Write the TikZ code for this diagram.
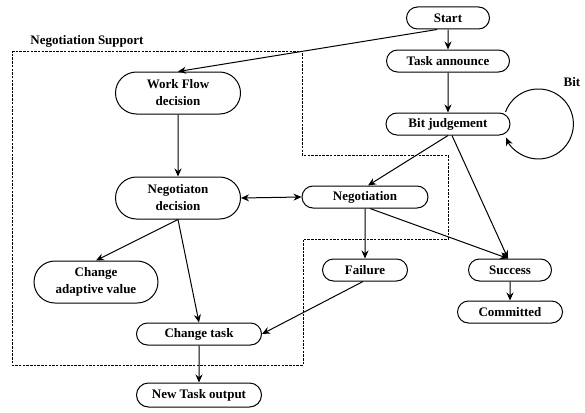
\documentclass[tikz,border=0pt]{standalone}
\usepackage{fontspec}
\setmainfont{Liberation Serif}
\usetikzlibrary{shapes.misc,arrows.meta}
\begin{document}
\begin{tikzpicture}[x=1pt,y=-1pt,
  box/.style={draw, line width=1pt, rounded rectangle, inner sep=0pt, align=center,
    font=\fontsize{13}{17}\selectfont\bfseries},
  one/.style={box, minimum height=22pt},
  two/.style={box, minimum height=42pt},
  arr/.style={line width=1pt, -{Stealth[length=8pt,width=7pt]}},
  darr/.style={line width=1pt, {Stealth[length=8pt,width=7pt]}-{Stealth[length=8pt,width=7pt]}},
  dashbox/.style={line width=0.8pt, dash pattern=on 2.5pt off 1.2pt},
  lbl/.style={font=\fontsize{13}{15}\selectfont\bfseries, inner sep=0pt}]
\useasboundingbox (0,0) rectangle (585,412);
% dashed support area
\draw[dashbox] (12,51) -- (302,51) -- (302,155) -- (448,155) -- (448,239) -- (303,239) -- (303,365) -- (12,365) -- cycle;
\node[lbl] (nslabel) at (87,41) {Negotiation Support};
\node[lbl] (bitlabel) at (572,82) {Bit};
% nodes
\node[one, minimum width=83pt] (start) at (448,18) {Start};
\node[one, minimum width=123pt] (ta) at (448,61) {Task announce};
\node[one, minimum width=124pt] (bj) at (448,124) {Bit judgement};
\node[two, minimum width=125pt] (wf) at (178,93) {Work Flow\\decision};
\node[two, minimum width=125pt] (nd) at (178,198) {Negotiaton\\decision};
\node[one, minimum width=126pt] (neg) at (365,197) {Negotiation};
\node[two, minimum width=124pt] (cav) at (96,282) {Change\\adaptive value};
\node[one, minimum width=125pt] (ct) at (199,334) {Change task};
\node[one, minimum width=125pt, minimum height=24pt] (nto) at (199,395) {New Task output};
\node[one, minimum width=85pt] (fail) at (365,270) {Failure};
\node[one, minimum width=83pt] (succ) at (510,270) {Success};
\node[one, minimum width=105pt] (comm) at (510,312) {Committed};
% connectors
\draw[arr] ([xshift=-11pt]start.south) -- (wf.north);
\draw[arr] (start) -- (ta);
\draw[arr] (ta) -- (bj);
\draw[arr] (bj.east) ++(-5,-12) arc[start angle=160, end angle=-157, radius=35pt];
\draw[arr] (bj.south) -- ([xshift=3pt]neg.north);
\draw[arr] ([xshift=4pt]bj.south) -- ([xshift=-2pt]succ.north);
\draw[arr] ([xshift=5pt]neg.south) -- ([xshift=-2pt]succ.north);
\draw[arr] (neg) -- (fail);
\draw[darr] (nd.east) -- (neg.west);
\draw[arr] (wf) -- (nd);
\draw[arr] (nd.south) -- (cav.north);
\draw[arr] (nd.south) -- (ct.north);
\draw[arr] ([xshift=-2pt]fail.south) -- (ct.east);
\draw[arr] (ct) -- (nto);
\draw[arr] (succ) -- (comm);
\end{tikzpicture}
\end{document}
